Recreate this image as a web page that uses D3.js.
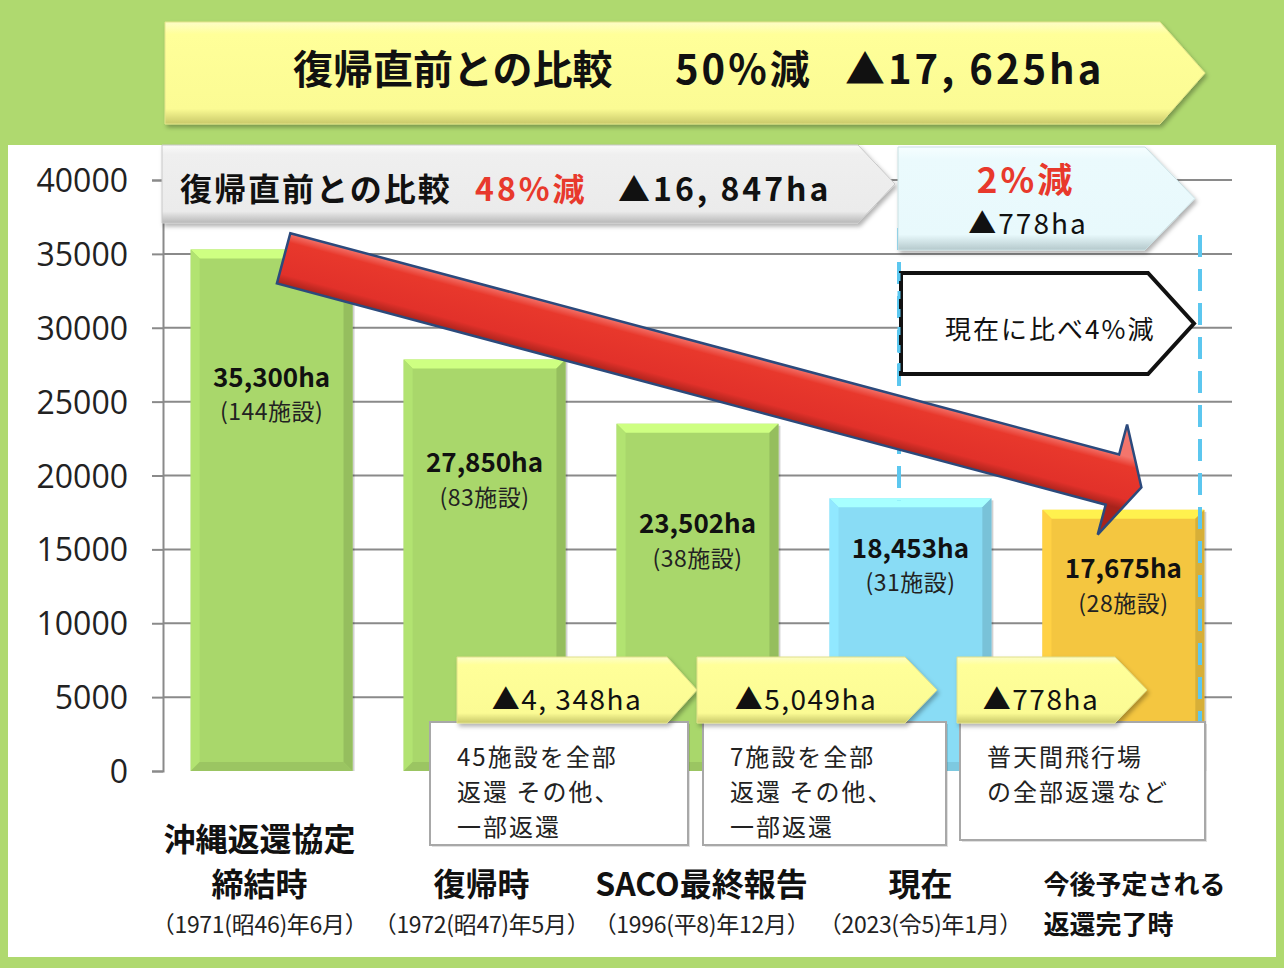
<!DOCTYPE html>
<html><head><meta charset="utf-8">
<script src="https://cdn.jsdelivr.net/npm/d3@7"></script>
<style>
body{margin:0;background:#afd96f;}
svg{display:block;}
</style>
</head><body>
<svg id="c" width="1284" height="968"></svg>
<script>
// ---------------- DATA ----------------
const categories = ["沖縄返還協定締結時", "復帰時", "SACO最終報告", "現在", "今後予定される返還完了時"];
const categoryTitleLines = [["沖縄返還協定", "締結時"], ["復帰時"], ["SACO最終報告"], ["現在"], ["今後予定される"]];
const categorySubLines = ["（1971(昭46)年6月）", "（1972(昭47)年5月）", "（1996(平8)年12月）", "（2023(令5)年1月）", "返還完了時"];
const areaValues = [35300, 27850, 23502, 18453, 17675];
const facilityLabels = ["(144施設)", "(83施設)", "(38施設)", "(31施設)", "(28施設)"];
const yTickValues = [0, 5000, 10000, 15000, 20000, 25000, 30000, 35000, 40000];
const stepReductions = ["▲4, 348ha", "▲5,049ha", "▲778ha"];
const stepNotes = [["45施設を全部", "返還 その他、", "一部返還"], ["7施設を全部", "返還 その他、", "一部返還"], ["普天間飛行場", "の全部返還など"]];
const topBannerParts = ["復帰直前との比較", "50%減", "▲17, 625ha"];
const grayBannerParts = ["復帰直前との比較", "48%減", "▲16, 847ha"];
const blueBoxParts = ["2%減", "▲778ha"];
const outlineBoxText = "現在に比べ4%減";

// ---------------- STYLE / LAYOUT ----------------
const barColors = ["#a9d76b", "#a9d76b", "#a9d76b", "#89dcf5", "#f4c640"];
const labelDepth = [126, 101, 98, 48, 57];
const catLabelShift = [-12, -3, 4, 10, 11];
const JP = "'Noto Sans CJK JP','Noto Sans',sans-serif";

const svg = d3.select("#c");
const defs = svg.append("defs");

const f = defs.append("filter").attr("id","sh").attr("x","-5%").attr("y","-10%").attr("width","115%").attr("height","130%");
f.append("feDropShadow").attr("dx",2).attr("dy",3).attr("stdDeviation",2).attr("flood-opacity",0.3);

function vgrad(id, c0, c1, c2, c3){
  const g = defs.append("linearGradient").attr("id",id).attr("x1",0).attr("y1",0).attr("x2",0).attr("y2",1);
  g.append("stop").attr("offset","0").attr("stop-color",c0);
  g.append("stop").attr("offset","0.12").attr("stop-color",c1);
  g.append("stop").attr("offset","0.85").attr("stop-color",c2);
  g.append("stop").attr("offset","1").attr("stop-color",c3);
}
vgrad("gYellow", "#fdfdc8", "#ffff99", "#fbfb94", "#c9c96a");
vgrad("gGray", "#fafafa", "#efefef", "#ebebeb", "#b8b8b8");
vgrad("gBlue", "#f6feff", "#ebfafd", "#e8f9fc", "#b5c9cc");

// background panel
svg.append("rect").attr("x",0).attr("y",0).attr("width",1284).attr("height",968).attr("fill","#afd96f");
svg.append("rect").attr("x",8).attr("y",145).attr("width",1268).attr("height",812).attr("fill","#ffffff");

// scales
const x = d3.scaleBand().domain(d3.range(categories.length)).range([163, 1232]).paddingInner(0.24).paddingOuter(0.13);
const y = d3.scaleLinear().domain([0, 40000]).range([771, 180]);

// grid + axis
const axis = d3.axisLeft(y).tickValues(yTickValues).tickSize(11).tickFormat(d3.format("d"));
const gAxis = svg.append("g").attr("transform","translate(163,0)").call(axis);
gAxis.select(".domain").attr("stroke","#8a8a8a").attr("stroke-width",2);
gAxis.selectAll(".tick line").attr("stroke","#8a8a8a").attr("stroke-width",2);
gAxis.selectAll(".tick text").attr("font-family","'Open Sans','Noto Sans',sans-serif").attr("font-size",32).attr("fill","#222").attr("x",-35).attr("dy","0.36em");
svg.append("g").selectAll("line").data(yTickValues.filter(v=>v>0)).join("line")
  .attr("x1",163).attr("x2",1232).attr("y1",d=>y(d)).attr("y2",d=>y(d))
  .attr("stroke","#8a8a8a").attr("stroke-width",2);

// dashed blue guide lines
const guide = svg.append("g").attr("stroke","#5cc7ef").attr("stroke-width",4).attr("stroke-dasharray","22 12");

// bars with bevel
const bars = svg.append("g");
areaValues.forEach((v,i)=>{
  const bx = x(i), bw = x.bandwidth(), by = y(v), bh = y(0)-y(v), b = 9;
  const base = d3.color(barColors[i]);
  const g = bars.append("g");
  g.append("rect").attr("x",bx+2).attr("y",by+2).attr("width",bw).attr("height",bh-2).attr("fill","rgba(0,0,0,0.18)");
  g.append("rect").attr("x",bx).attr("y",by).attr("width",bw).attr("height",bh).attr("fill",base.formatHex());
  const poly = pts => pts.map(p=>p.join(",")).join(" ");
  g.append("polygon").attr("points",poly([[bx,by],[bx+bw,by],[bx+bw-b,by+b],[bx+b,by+b]])).attr("fill",base.brighter(0.55).formatHex());
  g.append("polygon").attr("points",poly([[bx,by],[bx+b,by+b],[bx+b,by+bh-b],[bx,by+bh]])).attr("fill",base.brighter(0.15).formatHex());
  g.append("polygon").attr("points",poly([[bx+bw,by],[bx+bw,by+bh],[bx+bw-b,by+bh-b],[bx+bw-b,by+b]])).attr("fill",base.darker(0.35).formatHex());
  g.append("polygon").attr("points",poly([[bx,by+bh],[bx+bw,by+bh],[bx+bw-b,by+bh-b],[bx+b,by+bh-b]])).attr("fill",base.darker(0.25).formatHex());
  const cx = bx + bw/2;
  g.append("text").attr("x",cx).attr("y",by+labelDepth[i]).attr("text-anchor","middle").attr("dominant-baseline","central")
    .attr("font-family",JP).attr("font-weight","bold").attr("font-size",26).attr("fill","#111").text(d3.format(",")(v)+"ha");
  g.append("text").attr("x",cx).attr("y",by+labelDepth[i]+35).attr("text-anchor","middle").attr("dominant-baseline","central")
    .attr("font-family",JP).attr("font-size",23).attr("letter-spacing",0.5).attr("fill","#222").text(facilityLabels[i]);
});

// dashed guides over bars
guide.raise();
guide.append("line").attr("x1",899).attr("x2",899).attr("y1",228).attr("y2",y(areaValues[3])+2);
guide.append("line").attr("x1",1200).attr("x2",1200).attr("y1",235).attr("y2",722);

// pentagon helper
function pent(g, x0, y0, x1, y1, flat, fill, stroke, sw){
  const ym = (y0+y1)/2;
  return g.append("polygon").attr("points",[[x0,y0],[flat,y0],[x1,ym],[flat,y1],[x0,y1]].map(p=>p.join(",")).join(" "))
    .attr("fill",fill).attr("stroke",stroke||"none").attr("stroke-width",sw||0);
}

// top banner
const tb = svg.append("g").attr("filter","url(#sh)");
pent(tb, 165, 22, 1205, 124, 1160, "url(#gYellow)", "#e4e48a", 1);
const tt = svg.append("text").attr("y",67).attr("dominant-baseline","central").attr("font-family",JP).attr("font-weight","bold").attr("font-size",40).attr("fill","#111");
tt.append("tspan").attr("x",293).text(topBannerParts[0]);
tt.append("tspan").attr("x",675).attr("letter-spacing",3).text(topBannerParts[1]);
tt.append("tspan").attr("x",845).attr("letter-spacing",3).text(topBannerParts[2]);

// gray banner
const gb = svg.append("g").attr("filter","url(#sh)");
pent(gb, 162, 145, 895, 223, 858, "url(#gGray)", "#c8c8c8", 1);
const gt = svg.append("text").attr("y",187).attr("dominant-baseline","central").attr("font-family",JP).attr("font-weight","bold").attr("font-size",32).attr("fill","#111");
gt.append("tspan").attr("x",180).attr("letter-spacing",2).text(grayBannerParts[0]);
gt.append("tspan").attr("x",475).attr("letter-spacing",3).attr("fill","#e8392c").text(grayBannerParts[1]);
gt.append("tspan").attr("x",618).attr("letter-spacing",3).text(grayBannerParts[2]);

// light blue box
const bb = svg.append("g").attr("filter","url(#sh)");
pent(bb, 898, 147, 1195, 250, 1145, "url(#gBlue)", "#c9dfe2", 1);
svg.append("text").attr("x",1026).attr("y",177).attr("text-anchor","middle").attr("dominant-baseline","central").attr("letter-spacing",3)
  .attr("font-family",JP).attr("font-weight","bold").attr("font-size",35).attr("fill","#e8392c").text(blueBoxParts[0]);
svg.append("text").attr("x",1028).attr("y",222).attr("text-anchor","middle").attr("dominant-baseline","central").attr("letter-spacing",2)
  .attr("font-family",JP).attr("font-size",28).attr("fill","#111").text(blueBoxParts[1]);

// outlined box
const ob = svg.append("g");
pent(ob, 901, 273, 1194, 374, 1148, "#ffffff", "#111", 4);
svg.append("line").attr("x1",899).attr("x2",899).attr("y1",273).attr("y2",374).attr("stroke","#5cc7ef").attr("stroke-width",3).attr("stroke-dasharray","8 10");
svg.append("text").attr("x",945).attr("y",327).attr("dominant-baseline","central").attr("letter-spacing",2)
  .attr("font-family",JP).attr("font-size",26).attr("fill","#111").text(outlineBoxText);

// red arrow
const arrowFrom = {cat:0, value:34700, dx:12};
const arrowTo = {cat:4, value:19200, dx:18};
(function(){
  const S = [x(arrowFrom.cat)+x.bandwidth()/2+arrowFrom.dx, y(arrowFrom.value)];
  const T = [x(arrowTo.cat)+x.bandwidth()/2+arrowTo.dx, y(arrowTo.value)];
  const L = Math.hypot(T[0]-S[0], T[1]-S[1]);
  const u = [(T[0]-S[0])/L, (T[1]-S[1])/L];
  const n = [-u[1], u[0]];
  const w = 26, hl = 30, hw = 57;
  const B = [T[0]-u[0]*hl, T[1]-u[1]*hl];
  const P = (p,k)=>[p[0]+n[0]*k, p[1]+n[1]*k];
  const pts = [P(S,-w), P(B,-w), P(B,-hw), T, P(B,hw), P(B,w), P(S,w)];
  const g = defs.append("linearGradient").attr("id","gArrow").attr("gradientUnits","userSpaceOnUse")
    .attr("x1",P(S,-w)[0]).attr("y1",P(S,-w)[1]).attr("x2",P(S,w)[0]).attr("y2",P(S,w)[1]);
  g.append("stop").attr("offset","0").attr("stop-color","#f4756c");
  g.append("stop").attr("offset","0.18").attr("stop-color","#e8382c");
  g.append("stop").attr("offset","0.8").attr("stop-color","#e2312a");
  g.append("stop").attr("offset","1").attr("stop-color","#a8231c");
  svg.append("polygon").attr("points",pts.map(p=>p.join(",")).join(" "))
    .attr("fill","url(#gArrow)").attr("stroke","#2c4a7c").attr("stroke-width",2.5).attr("stroke-linejoin","miter");
})();

// step reduction pentagons + note boxes
const stepPent = [[457,697,667],[697,937,905],[957,1147,1115]];
const noteBoxes = [[430,688,845],[703,946,845],[960,1205,840]];
stepReductions.forEach((t,i)=>{
  const nb = noteBoxes[i];
  svg.append("rect").attr("x",nb[0]+2).attr("y",724).attr("width",nb[1]-nb[0]).attr("height",nb[2]-722).attr("fill","rgba(0,0,0,0.12)");
  svg.append("rect").attr("x",nb[0]).attr("y",722).attr("width",nb[1]-nb[0]).attr("height",nb[2]-722).attr("fill","#fff").attr("stroke","#a8a8a8").attr("stroke-width",2);
  const tx = svg.append("text").attr("font-family",JP).attr("font-size",24).attr("letter-spacing",2).attr("fill","#222");
  stepNotes[i].forEach((line,j)=>{
    tx.append("tspan").attr("x",nb[0]+27).attr("y",755+j*35).attr("dominant-baseline","central").text(line);
  });
  const sp = stepPent[i];
  const pg = svg.append("g").attr("filter","url(#sh)");
  pent(pg, sp[0], 657, sp[1], 723, sp[2], "url(#gYellow)", "#e0e088", 1);
  svg.append("text").attr("x",(sp[0]+sp[2])/2+5).attr("y",698).attr("text-anchor","middle").attr("dominant-baseline","central").attr("letter-spacing",1.5)
    .attr("font-family",JP).attr("font-size",28).attr("fill","#111").text(t);
});

// category labels
categories.forEach((c,i)=>{
  const cx = x(i)+x.bandwidth()/2+catLabelShift[i];
  const lines = categoryTitleLines[i];
  const last = i === categories.length-1;
  lines.forEach((line,j)=>{
    svg.append("text").attr("x",cx).attr("y",882-(lines.length-1-j)*45).attr("text-anchor","middle").attr("dominant-baseline","central")
      .attr("font-family",JP).attr("font-weight","bold").attr("font-size",last?26:32).attr("fill","#111").text(line);
  });
  if(last){
    const t0 = svg.append("text").attr("font-family",JP).attr("font-weight","bold").attr("font-size",26).text(lines[0]).attr("opacity",0);
    const wdt = t0.node().getComputedTextLength(); t0.remove();
    svg.append("text").attr("x",cx-wdt/2).attr("y",922).attr("dominant-baseline","central")
      .attr("font-family",JP).attr("font-weight","bold").attr("font-size",26).attr("fill","#111").text(categorySubLines[i]);
  } else {
    svg.append("text").attr("x",cx).attr("y",923).attr("text-anchor","middle").attr("dominant-baseline","central")
      .attr("font-family",JP).attr("font-size",23).attr("letter-spacing",-0.3).attr("fill","#222").text(categorySubLines[i]);
  }
});
</script>
</body></html>
